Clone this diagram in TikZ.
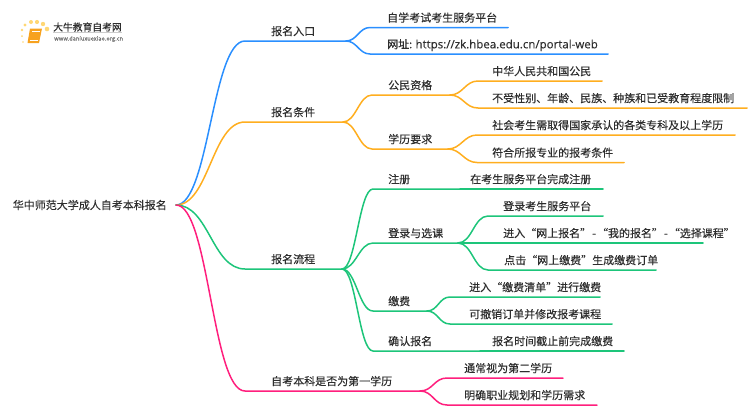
\documentclass[tikz,border=0pt]{standalone}
\usepackage{fontspec}
\setmainfont[FakeBold=0.3]{Noto Sans CJK SC}
\newfontfamily\latinfont[FakeBold=0.3]{Open Sans}
\usepackage{tikz}
\usetikzlibrary{calc}

\definecolor{bluebr}{HTML}{2A8FFF}
\definecolor{orangebr}{HTML}{FFAE1F}
\definecolor{greenbr}{HTML}{1DC57A}
\definecolor{pinkbr}{HTML}{FF1F7D}
\definecolor{labeltext}{HTML}{2E2E2E}
\definecolor{bookorange}{HTML}{F7A21E}
\definecolor{dotyellow}{HTML}{FFD774}

\tikzset{
    lbl/.style={anchor=south west, inner sep=0pt, text height=9.5pt, text depth=5.5pt,
        font=\fontsize{11pt}{13pt}\selectfont, text=labeltext},
    br/.style={line width=1.5pt, line cap=round},
    logodot/.style={fill=dotyellow, draw=none}
}

\begin{document}
\begin{tikzpicture}[x=1pt, y=-1pt]
    \useasboundingbox (0,0) rectangle (750,410);

    \fill[bookorange] (30,28.5) -- (42,28.5) -- (39,43) -- (27.5,43) -- cycle;
    \draw[white, line width=.6pt] (32,31) -- (40,31) (29.5,40.5) -- (37.5,40.5);
    \foreach \dx/\dy/\r in {23/42/.8, 22/36/1, 22/30/1.3, 25/25/1.6, 31/22/2, 37/22/2.1, 43/24/2.2, 47/29/2.3}
        \fill[logodot] (\dx,\dy) circle (\r);
    \node[inner sep=0pt, anchor=west, font=\fontsize{9.8pt}{11pt}\selectfont, text=labeltext] (logoname) at (53,27) {大牛教育自考网};
    \node[inner sep=0pt, anchor=west, font=\fontsize{5.7pt}{6pt}\selectfont, text=gray!90!black] (logourl) at (54,39) {www.daniuxuexiao.org.cn};
    \draw[gray!40, line width=.5pt] (logoname.south west) -- (logoname.south east);

    \node[inner sep=0pt, anchor=east, font=\fontsize{11pt}{13pt}\selectfont, text=labeltext] (root) at (167,205) {华中师范大学成人自考本科报名};
    \coordinate (rootend) at (176,205);

    \node[lbl] (rukou) at (271,41) {报名入口};
    \node[lbl] (pingtai) at (387,27.5) {自学考试考生服务平台};
    \node[lbl] (wangzhi) at (387,54) {网址: {\latinfont\fontsize{11.5pt}{13pt}\selectfont https://zk.hbea.edu.cn/portal-web}};
    \node[lbl] (tiaojian) at (271,122) {报名条件};
    \node[lbl] (gongmin) at (388,95) {公民资格};
    \node[lbl] (zhongguo) at (492,81) {中华人民共和国公民};
    \node[lbl] (xianzhi) at (492,108) {不受性别、年龄、民族、种族和已受教育程度限制};
    \node[lbl] (xueli) at (388,149) {学历要求};
    \node[lbl] (zhuanke) at (492,135) {社会考生需取得国家承认的各类专科及以上学历};
    \node[lbl] (fuhe) at (492,162.5) {符合所报专业的报考条件};
    \node[lbl] (liucheng) at (271,269) {报名流程};
    \node[lbl] (zhuce) at (388,189) {注册};
    \node[lbl] (wancheng) at (470,189) {在考生服务平台完成注册};
    \node[lbl] (denglu) at (388,243) {登录与选课};
    \node[lbl] (kaosheng) at (503,216) {登录考生服务平台};
    \node[lbl] (jinru) at (503,243) {进入“网上报名”\kern1pt-\kern1pt“我的报名”\kern1pt-\kern1pt“选择课程”};
    \node[lbl] (dianji) at (504,270) {点击“网上缴费”生成缴费订单};
    \node[lbl] (jiaofei) at (388,311) {缴费};
    \node[lbl] (qingdan) at (469,297) {进入“缴费清单”进行缴费};
    \node[lbl] (chexiao) at (469,324) {可撤销订单并修改报考课程};
    \node[lbl] (queren) at (388,351) {确认报名};
    \node[lbl] (jiezhi) at (492,351) {报名时间截止前完成缴费};
    \node[lbl] (diyi) at (271,391) {自考本科是否为第一学历};
    \node[lbl] (dier) at (464,378) {通常视为第二学历};
    \node[lbl] (guihua) at (464,405) {明确职业规划和学历需求};

    \foreach \from/\to/\sx/\ex/\c/\col in {
        root/rukou/245/346/33/bluebr,
        rukou/pingtai/370/508/11/bluebr,
        rukou/wangzhi/370/608/11/bluebr,
        root/tiaojian/245/343/33/orangebr,
        tiaojian/gongmin/372/450/13/orangebr,
        gongmin/zhongguo/478/602/13/orangebr,
        gongmin/xianzhi/478/747/13/orangebr,
        tiaojian/xueli/372/448/13/orangebr,
        xueli/zhuanke/477/735/13/orangebr,
        xueli/fuhe/477/624/13/orangebr,
        root/liucheng/245/342/33/greenbr,
        liucheng/zhuce/373/460/14/greenbr,
        zhuce/wancheng/460/603/0/greenbr,
        liucheng/denglu/373/458/14/greenbr,
        denglu/kaosheng/488/603/14/greenbr,
        denglu/jinru/488/703/14/greenbr,
        denglu/dianji/488/656/14/greenbr,
        liucheng/jiaofei/373/427/14/greenbr,
        jiaofei/qingdan/450/600/11/greenbr,
        jiaofei/chexiao/450/612/11/greenbr,
        liucheng/queren/373/480/14/greenbr,
        queren/jiezhi/480/624/0/greenbr,
        root/diyi/245/420/33/pinkbr,
        diyi/dier/447/563/13/pinkbr,
        diyi/guihua/447/597/13/pinkbr}
    {
        \coordinate (\to start) at (\sx,0 |- \to.south);
        \coordinate (\to end) at (\ex,0 |- \to.south);
        \draw[br, \col] (\from end) .. controls +(\c,0) and +(-\c,0) .. (\to start) -- (\to end);
    }
\end{tikzpicture}
\end{document}
